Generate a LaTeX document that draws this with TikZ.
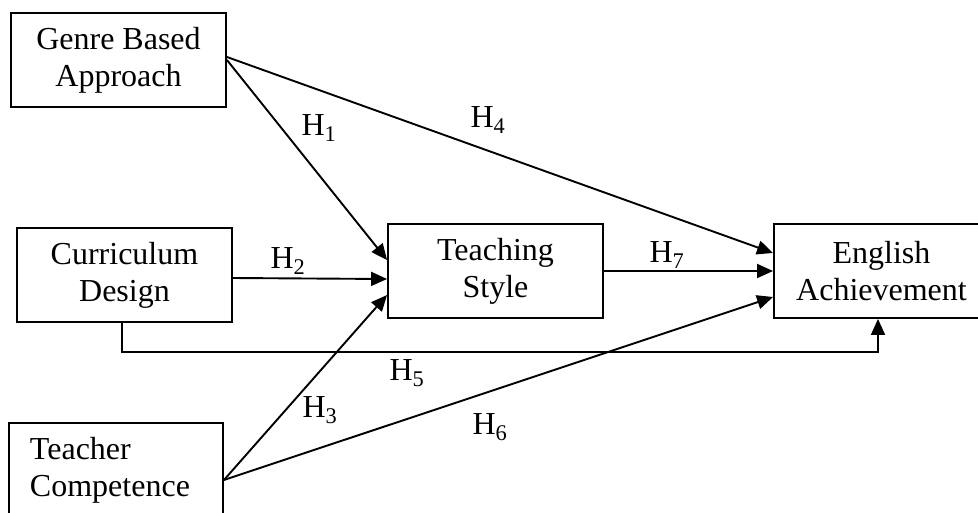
\documentclass[tikz,border=0pt]{standalone}
\usepackage{fontspec}
\setmainfont{Liberation Serif}
\usetikzlibrary{arrows.meta}
\begin{document}
\begin{tikzpicture}[x=1pt,y=-1pt,
  box/.style={draw,line width=1.9pt,minimum width=215pt,minimum height=94pt,inner sep=0pt,align=center,font=\fontsize{32}{37}\selectfont},
  arr/.style={line width=1.9pt,-{Triangle[length=16pt,width=14pt]}},
  lab/.style={font=\fontsize{32}{37}\selectfont,inner sep=0pt}]
\useasboundingbox (0,0) rectangle (978,512);
\clip (0,0) rectangle (978,512);
\node[box] (genre) at (118.5,60) {Genre Based\\Approach};
\node[box] (cur) at (124.5,275) {Curriculum\\Design};
\node[box] (teach) at (495.5,271) {Teaching\\Style};
\node[box] (eng) at (881.5,271) {English\\Achievement};
\node[box,text width=172pt,align=left,inner xsep=21pt,minimum width=214pt] (tc) at (116,470) {Teacher\\Competence};
\node[lab] (l1) at (319,128) {H\textsubscript{1}};
\node[lab] (l4) at (488,120) {H\textsubscript{4}};
\node[lab] (l2) at (288,261) {H\textsubscript{2}};
\node[lab] (l7) at (667,255) {H\textsubscript{7}};
\node[lab] (l5) at (407,373) {H\textsubscript{5}};
\node[lab] (l3) at (320,410) {H\textsubscript{3}};
\node[lab] (l6) at (490,427) {H\textsubscript{6}};
\draw[arr] (genre.east) -- ([yshift=11pt]teach.west);
\draw[arr] ([yshift=3pt]genre.east) -- ([yshift=18pt]eng.west);
\draw[arr] ([yshift=-3pt]cur.east) -- ([yshift=-8pt]teach.west);
\draw[arr] (teach.east) -- (eng.west);
\draw[arr] ([yshift=-10pt]tc.east) -- ([yshift=-24pt]teach.west);
\draw[arr] ([yshift=-10pt]tc.east) -- ([yshift=-26pt]eng.west);
\coordinate (h5a) at (122,352);
\coordinate (h5b) at (878,352);
\draw[arr] (cur.south -| h5a) -- (h5a) -- (h5b) -- (eng.south -| h5b);
\end{tikzpicture}
\end{document}
